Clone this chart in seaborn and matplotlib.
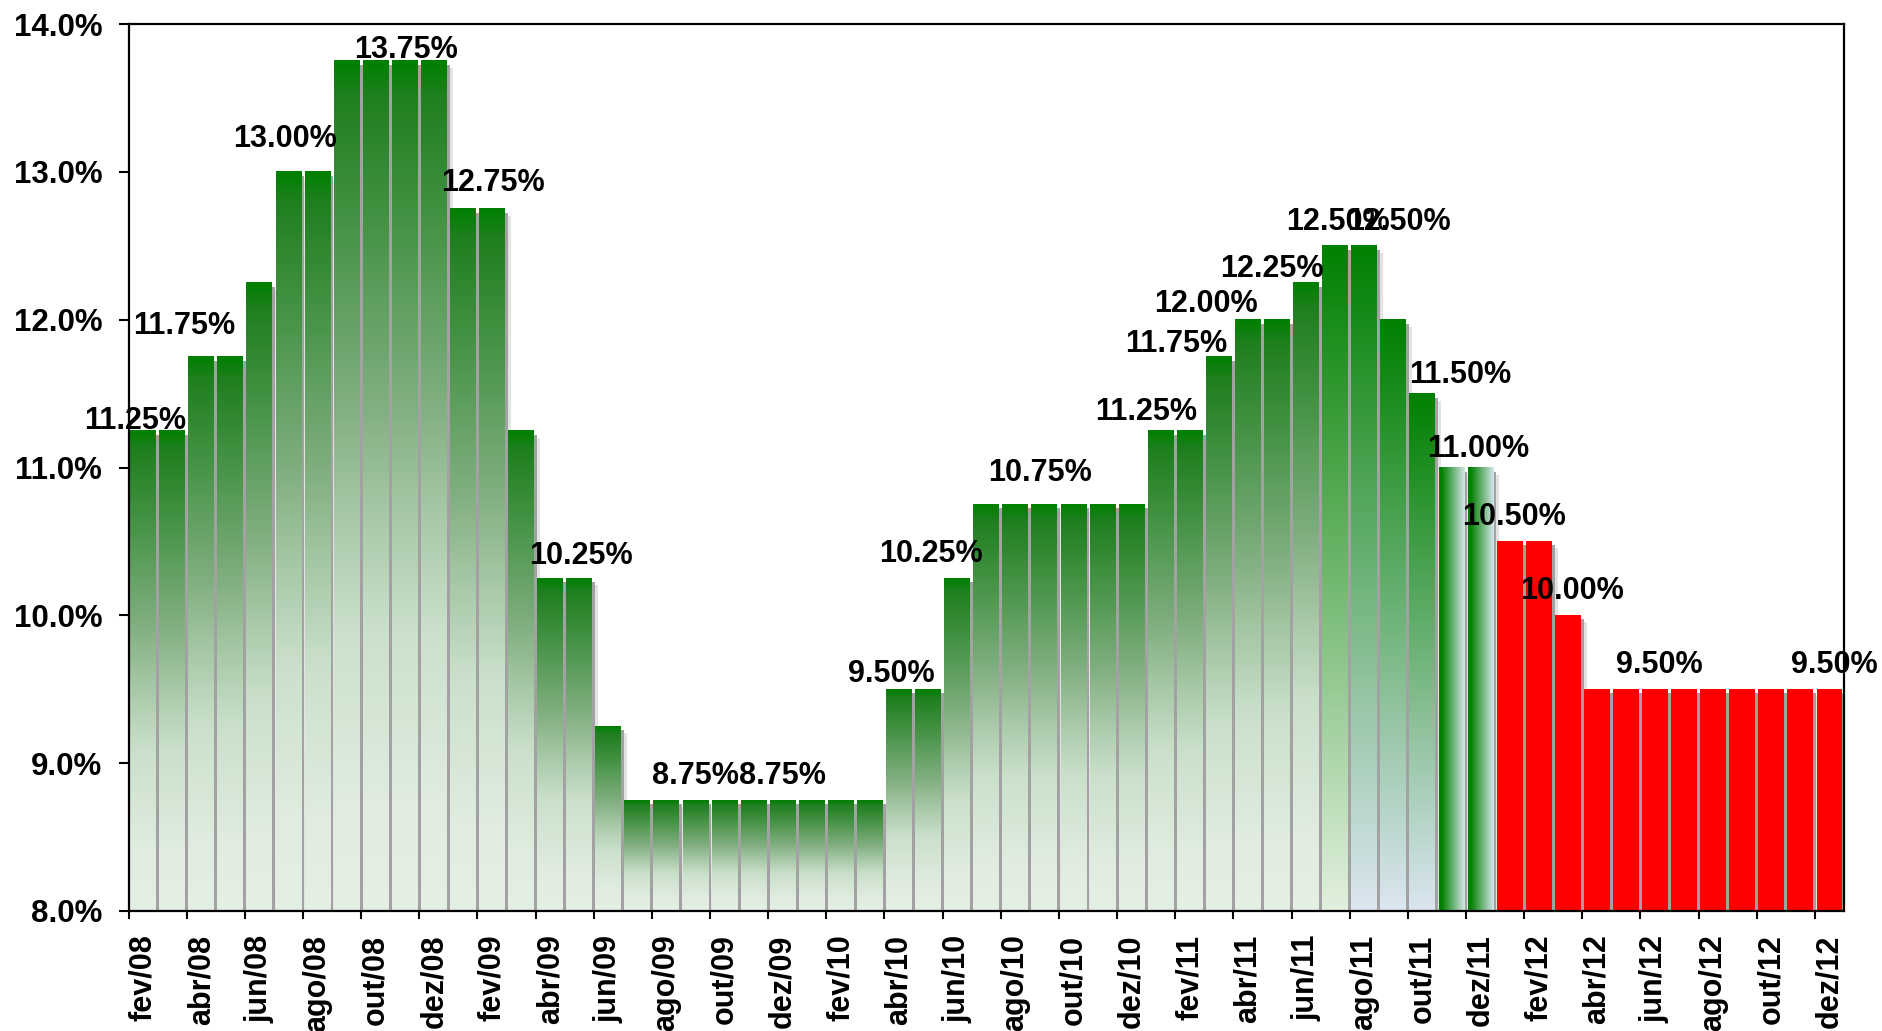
"""
Selic mensal fev/08 - dez/12 (barras com gradiente, projeção em vermelho)
"""

import numpy as np
import pandas as pd
import matplotlib

matplotlib.use("Agg")
import matplotlib.pyplot as plt
import matplotlib.ticker as mticker
import matplotlib.transforms as mtransforms
from matplotlib.patches import Rectangle
import seaborn as sns

sns.set_theme(style="white")
plt.rcParams["font.family"] = ["Liberation Sans", "DejaVu Sans"]
plt.rcParams["font.weight"] = "bold"

MESES = ["jan", "fev", "mar", "abr", "mai", "jun", "jul", "ago", "set", "out", "nov", "dez"]

# taxa Selic (% a.a.), um valor por mês de fev/08 a dez/12
selic_08 = [11.25, 11.25, 11.75, 11.75, 12.25, 13.00, 13.00, 13.75, 13.75, 13.75, 13.75]
selic_09 = [12.75, 12.75, 11.25, 10.25, 10.25, 9.25, 8.75, 8.75, 8.75, 8.75, 8.75, 8.75]
selic_10 = [8.75, 8.75, 8.75, 9.50, 9.50, 10.25, 10.75, 10.75, 10.75, 10.75, 10.75, 10.75]
selic_11 = [11.25, 11.25, 11.75, 12.00, 12.00, 12.25, 12.50, 12.50, 12.00, 11.50, 11.00, 11.00]
selic_12 = [10.50, 10.50, 10.00, 9.50, 9.50, 9.50, 9.50, 9.50, 9.50, 9.50, 9.50, 9.50]

selic = selic_08 + selic_09 + selic_10 + selic_11 + selic_12
meses = [f"{m}/08" for m in MESES[1:]] + [
    f"{m}/{a}" for a in ["09", "10", "11", "12"] for m in MESES
]

# tipo de preenchimento de cada barra
estilo = ["hist"] * 41 + ["verde"] + ["azul"] * 3 + ["horiz"] * 2 + ["proj"] * 12

# rótulos: barra cujo valor é mostrado, posição x (categorias) e folga vertical
rotulo_barra = [0, 2, 5, 9, 12, 15, 19, 22, 26, 28, 31, 35, 37, 38, 40, 41, 42, 44, 45, 47, 49, 52, 58]
rotulo_x = [-0.26, 1.41, 4.88, 9.04, 12.03, 15.06, 19.0, 22.0, 25.75, 27.11, 30.86, 34.5,
            35.52, 36.55, 38.84, 41.1, 43.19, 45.31, 45.93, 47.14, 49.16, 52.15, 58.17]
rotulo_dy = [0.01, 0.15, 0.17, 0.02, 0.12, 0.10, 0.11, 0.11, 0.05, 0.11, 0.16, 0.07,
             0.03, 0.05, 0.04, 0.11, 0.11, 0.07, 0.07, 0.11, 0.11, 0.11, 0.11]

YMIN, YMAX = 8.0, 14.0
VERDE = np.array([0, 128, 0]) / 255

# degradê "histórico": canais R(=B) e G ao longo da altura da barra
GRAD_F = [0, 0.13, 0.33, 0.46, 0.6, 0.8, 0.96, 1.0]
GRAD_R = [227, 223, 203, 169, 127, 72, 31, 0]
GRAD_G = [240, 236, 224, 201, 174, 148, 127, 128]


def rgb(*c):
    return np.array(c) / 255


def gradiente(estilo_barra, n=256):
    f = np.linspace(0, 1, n)
    if estilo_barra == "hist":
        r = np.interp(f, GRAD_F, GRAD_R) / 255
        g = np.interp(f, GRAD_F, GRAD_G) / 255
        return np.stack([r, g, r], axis=1)
    if estilo_barra == "verde":
        t = f
        claro = rgb(226, 240, 222)
    elif estilo_barra == "azul":
        t = f
        claro = rgb(220, 230, 241)
    else:  # horiz: escuro à esquerda
        t = np.clip(1 - (f - 0.1) / 0.9, 0, 1)
        claro = rgb(215, 230, 234)
    return claro[None, :] * (1 - t[:, None]) + VERDE[None, :] * t[:, None]


df = pd.DataFrame({"mes": meses, "selic": selic})

fig = plt.figure(figsize=(18.82, 10.31), dpi=100)
ax = fig.add_axes([0.0683, 0.1164, 0.9115, 0.8603])

sns.barplot(data=df, x="mes", y="selic", ax=ax, width=0.89, color="#008000",
            saturation=1, errorbar=None, zorder=3)

sombra1 = mtransforms.offset_copy(ax.transData, fig=fig, x=3, y=-4, units="dots")
sombra2 = mtransforms.offset_copy(ax.transData, fig=fig, x=6, y=-7, units="dots")

for p, tipo in zip(ax.patches[:len(selic)], estilo):
    x0, w, h = p.get_x(), p.get_width(), p.get_height()
    ax.add_patch(Rectangle((x0, 0), w, h, transform=sombra2, fc="#909090",
                           ec="none", alpha=0.25, zorder=1))
    ax.add_patch(Rectangle((x0, 0), w, h, transform=sombra1, fc="#a2a2a2",
                           ec="none", zorder=1.5))
    p.set_edgecolor("none")
    if tipo == "proj":
        p.set_facecolor("#ff0000")
        continue
    p.set_facecolor("none")
    cores = gradiente(tipo)
    img = cores[None, :, :] if tipo == "horiz" else cores[:, None, :]
    ax.imshow(img, extent=(x0, x0 + w, YMIN, h), origin="lower", aspect="auto",
              interpolation="bilinear", zorder=2)

ax.set_xlim(-0.5, len(selic) - 0.5)
ax.set_ylim(YMIN, YMAX)

# eixo y
ax.set_yticks(np.arange(YMIN, YMAX + 0.01, 1.0))
ax.yaxis.set_major_formatter(mticker.FormatStrFormatter("%.1f%%"))
ax.tick_params(axis="y", left=True, length=7, width=1.5, pad=12, labelsize=22.5,
               color="black", labelcolor="black", direction="out")

# eixo x: marcas entre pares de meses, rótulos no primeiro mês de cada par
ax.set_xticks(np.arange(-0.5, len(selic) - 1, 2))
ax.set_xticks(np.arange(0, len(selic), 2), minor=True)
ax.set_xticklabels(meses[::2], minor=True, rotation=90)
ax.tick_params(axis="x", which="major", bottom=True, length=6, width=1.5,
               labelbottom=False, color="black", direction="out")
ax.tick_params(axis="x", which="minor", bottom=True, length=0, pad=17,
               labelsize=22, labelcolor="black")
ax.set_xlabel("")
ax.set_ylabel("")

for s in ax.spines.values():
    s.set_visible(True)
    s.set_color("black")
    s.set_linewidth(1.6)
    s.set_zorder(6)

for bi, lx, dy in zip(rotulo_barra, rotulo_x, rotulo_dy):
    ax.text(lx, selic[bi] + dy, f"{selic[bi]:.2f}%", ha="center", va="baseline",
            fontsize=22, fontweight="bold", color="black", zorder=7, clip_on=False)

fig.savefig("out.png", dpi=100)
